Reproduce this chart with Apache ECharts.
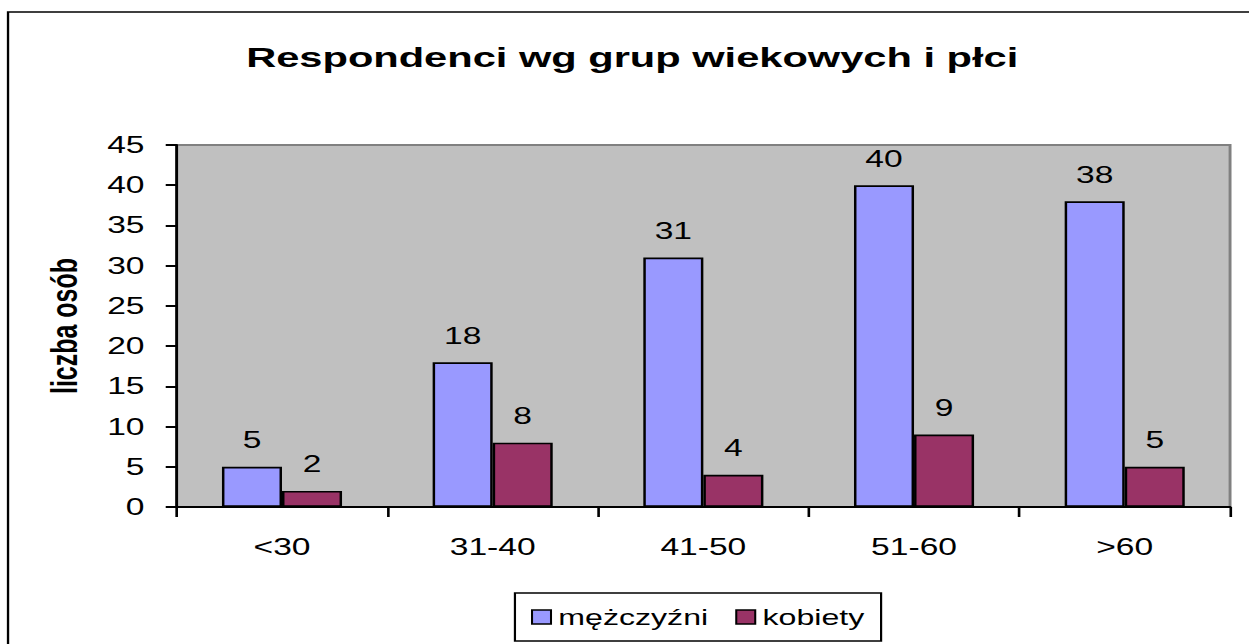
<!DOCTYPE html>
<html>
<head>
<meta charset="utf-8">
<script src="https://cdn.jsdelivr.net/npm/echarts@6/dist/echarts.min.js"></script>
<style>
  html, body { margin: 0; padding: 0; background: #fff; overflow: hidden; }
  /* the original picture is stretched sideways, so the chart is drawn narrow and widened */
  #chart { width: 856px; height: 644px; transform: scaleX(1.46); transform-origin: 0 0; }
</style>
</head>
<body>
<div id="chart"></div>
<script>
const categories = ['<30', '31-40', '41-50', '51-60', '>60']
const men = [5, 18, 31, 40, 38]
const women = [2, 8, 4, 9, 5]
const seriesNames = ['mężczyźni', 'kobiety']

const FONT = 'Arial, "Liberation Sans", sans-serif'

const chart = echarts.init(document.getElementById('chart'), null, {
  renderer: 'svg',
  width: 856,
  height: 644
})

const labelStyle = {
  show: true,
  position: 'top',
  distance: 15,
  color: '#000',
  fontFamily: FONT,
  fontSize: 23
}

chart.setOption({
  backgroundColor: '#fff',
  animation: false,
  title: {
    text: 'Respondenci wg grup wiekowych i płci',
    left: 428,
    textAlign: 'center',
    top: 38,
    textStyle: {
      fontFamily: FONT,
      fontWeight: 'bold',
      fontSize: 28.5,
      color: '#000'
    }
  },
  graphic: [{
    type: 'rect',
    shape: { x: 5.5, y: 12, width: 1000, height: 700 },
    style: { fill: 'none', stroke: '#000', lineWidth: 1.6 },
    silent: true
  }],
  grid: {
    left: 121,
    right: 13.5,
    top: 145,
    bottom: 137,
    show: true,
    backgroundColor: '#C0C0C0',
    borderColor: '#808080',
    borderWidth: 2
  },
  legend: {
    left: 352.7,
    top: 593,
    padding: [13, 11.5, 13, 11],
    itemGap: 18.5,
    itemWidth: 13,
    itemHeight: 14,
    borderColor: '#000',
    borderWidth: 1.5,
    icon: 'rect',
    textStyle: {
      fontFamily: FONT,
      fontSize: 22,
      color: '#000'
    },
    itemStyle: { borderColor: '#000', borderWidth: 1.4 },
    data: seriesNames
  },
  xAxis: {
    type: 'category',
    data: categories,
    axisLine: { lineStyle: { color: '#000', width: 2 } },
    axisTick: { show: true, length: 10, lineStyle: { color: '#000', width: 1.8 } },
    axisLabel: {
      margin: 29,
      color: '#000',
      fontFamily: FONT,
      fontSize: 23
    }
  },
  yAxis: {
    type: 'value',
    min: 0,
    max: 45,
    interval: 5,
    name: 'liczba osób',
    nameLocation: 'middle',
    nameGap: 64,
    nameTextStyle: {
      fontFamily: FONT,
      fontWeight: 'bold',
      fontSize: 25,
      color: '#000'
    },
    axisLine: { show: true, lineStyle: { color: '#000', width: 1.9 } },
    axisTick: { show: true, length: 7.5, lineStyle: { color: '#000', width: 2 } },
    axisLabel: {
      margin: 22,
      color: '#000',
      fontFamily: FONT,
      fontSize: 23
    },
    splitLine: { show: false }
  },
  series: [
    {
      name: seriesNames[0],
      type: 'bar',
      data: men,
      barGap: '0%',
      barCategoryGap: '43%',
      itemStyle: { color: '#9999FF', borderColor: '#000', borderWidth: 1.7 },
      label: labelStyle
    },
    {
      name: seriesNames[1],
      type: 'bar',
      data: women,
      itemStyle: { color: '#993366', borderColor: '#000', borderWidth: 1.7 },
      label: labelStyle
    }
  ]
})
</script>
</body>
</html>
